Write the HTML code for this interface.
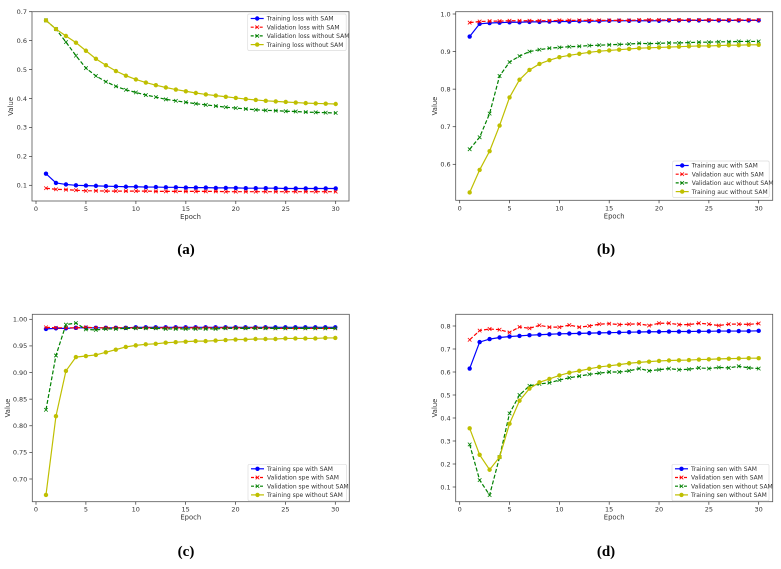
<!DOCTYPE html>
<html><head><meta charset="utf-8"><style>
html,body{margin:0;padding:0;background:#fff;}
svg{display:block;font-family:"DejaVu Sans","Liberation Sans",sans-serif;}
.cap{font-family:"Liberation Serif",serif;font-size:15px;font-weight:bold;}
</style></head><body>
<svg id="fig" width="781" height="569" viewBox="0 0 781 569" xmlns="http://www.w3.org/2000/svg">
<text class="cap" x="186" y="254" text-anchor="middle">(a)</text>
<text class="cap" x="606" y="254" text-anchor="middle">(b)</text>
<text class="cap" x="186" y="556" text-anchor="middle">(c)</text>
<text class="cap" x="606" y="556" text-anchor="middle">(d)</text>
</svg>
<script>
const epochs = Array.from({length:30},(_,i)=>i+1);
const xTicks = [0,5,10,15,20,25,30];

const lossTrainSam = [0.14,0.108,0.103,0.100,0.099,0.098,0.097,0.096,0.095,0.095,0.094,0.094,0.093,0.093,0.092,0.092,0.092,0.091,0.091,0.091,0.090,0.090,0.090,0.090,0.089,0.089,0.089,0.089,0.089,0.089];
const lossValSam = [0.090,0.086,0.085,0.083,0.081,0.081,0.080,0.080,0.080,0.080,0.080,0.079,0.079,0.079,0.079,0.079,0.079,0.079,0.078,0.078,0.078,0.078,0.078,0.078,0.078,0.078,0.078,0.078,0.078,0.078];
const lossValNoSam = [0.67,0.64,0.595,0.548,0.505,0.478,0.458,0.442,0.43,0.421,0.412,0.405,0.397,0.392,0.387,0.382,0.378,0.374,0.37,0.367,0.364,0.361,0.359,0.358,0.356,0.355,0.353,0.352,0.351,0.35];
const lossTrainNoSam = [0.67,0.64,0.616,0.593,0.565,0.537,0.515,0.495,0.479,0.466,0.455,0.446,0.438,0.431,0.425,0.419,0.414,0.41,0.406,0.402,0.398,0.395,0.392,0.39,0.388,0.386,0.384,0.383,0.382,0.381];
const lossTicks = ["0.1","0.2","0.3","0.4","0.5","0.6","0.7"];

const aucTrainSam = [0.94,0.974,0.976,0.977,0.978,0.978,0.979,0.979,0.98,0.98,0.98,0.981,0.981,0.981,0.982,0.982,0.982,0.982,0.982,0.982,0.983,0.983,0.983,0.983,0.983,0.983,0.983,0.983,0.983,0.983];
const aucValSam = [0.977,0.98,0.981,0.981,0.982,0.982,0.982,0.982,0.982,0.983,0.983,0.983,0.983,0.983,0.983,0.983,0.983,0.984,0.984,0.984,0.984,0.984,0.984,0.984,0.984,0.984,0.984,0.984,0.984,0.984];
const aucValNoSam = [0.64,0.672,0.735,0.835,0.872,0.888,0.9,0.905,0.909,0.911,0.913,0.914,0.916,0.917,0.918,0.919,0.92,0.922,0.921,0.922,0.923,0.923,0.924,0.925,0.925,0.926,0.926,0.927,0.927,0.927];
const aucTrainNoSam = [0.525,0.585,0.635,0.703,0.778,0.825,0.851,0.867,0.877,0.885,0.89,0.894,0.898,0.901,0.903,0.905,0.907,0.909,0.91,0.911,0.912,0.913,0.914,0.915,0.915,0.916,0.917,0.917,0.918,0.918];
const aucTicks = ["0.6","0.7","0.8","0.9","1.0"];

const speTrainSam = [0.982,0.983,0.983,0.984,0.984,0.984,0.984,0.984,0.984,0.985,0.985,0.985,0.985,0.985,0.985,0.985,0.985,0.985,0.985,0.985,0.985,0.985,0.985,0.985,0.985,0.985,0.985,0.985,0.985,0.985];
const speValSam = [0.985,0.984,0.984,0.984,0.985,0.984,0.984,0.984,0.984,0.984,0.984,0.984,0.984,0.984,0.984,0.984,0.984,0.984,0.984,0.984,0.984,0.984,0.984,0.983,0.983,0.983,0.983,0.983,0.983,0.983];
const speValNoSam = [0.83,0.932,0.99,0.993,0.981,0.98,0.982,0.982,0.983,0.983,0.983,0.983,0.982,0.982,0.982,0.982,0.982,0.982,0.983,0.983,0.983,0.983,0.983,0.983,0.983,0.983,0.983,0.983,0.983,0.983];
const speTrainNoSam = [0.67,0.818,0.903,0.929,0.931,0.933,0.938,0.943,0.948,0.951,0.953,0.954,0.956,0.957,0.958,0.959,0.959,0.96,0.961,0.962,0.962,0.963,0.963,0.963,0.964,0.964,0.964,0.964,0.965,0.965];
const speTicks = ["0.70","0.75","0.80","0.85","0.90","0.95","1.00"];

const senTrainSam = [0.615,0.73,0.743,0.75,0.754,0.757,0.76,0.762,0.764,0.766,0.767,0.768,0.769,0.77,0.771,0.772,0.773,0.774,0.775,0.775,0.776,0.776,0.776,0.777,0.777,0.778,0.778,0.778,0.778,0.779];
const senValSam = [0.74,0.78,0.787,0.784,0.772,0.796,0.79,0.803,0.795,0.795,0.804,0.795,0.8,0.808,0.81,0.806,0.808,0.809,0.802,0.812,0.812,0.806,0.806,0.812,0.808,0.802,0.808,0.808,0.807,0.811];
const senValNoSam = [0.285,0.13,0.065,0.23,0.42,0.5,0.54,0.548,0.553,0.565,0.575,0.582,0.59,0.595,0.6,0.6,0.605,0.615,0.605,0.61,0.615,0.61,0.612,0.618,0.615,0.62,0.618,0.625,0.618,0.615];
const senTrainNoSam = [0.355,0.24,0.175,0.23,0.375,0.475,0.528,0.555,0.57,0.585,0.597,0.605,0.614,0.622,0.627,0.632,0.638,0.642,0.645,0.648,0.65,0.651,0.652,0.654,0.655,0.657,0.658,0.659,0.66,0.66];
const senTicks = ["0.1","0.2","0.3","0.4","0.5","0.6","0.7","0.8"];

const NS="http://www.w3.org/2000/svg";
const svg=document.getElementById('fig');
function mk(tag,attrs,parent){const e=document.createElementNS(NS,tag);for(const k in attrs)e.setAttribute(k,attrs[k]);(parent||svg).appendChild(e);return e;}

const styles=[
 {color:'#0000ff',dash:null,marker:'o'},
 {color:'#ff0000',dash:'4,2',marker:'x'},
 {color:'#008000',dash:'4,2',marker:'x'},
 {color:'#bfbf00',dash:null,marker:'o'}
];

function marker(g,m,x,y,c){
  if(m==='o'){mk('circle',{cx:x,cy:y,r:2.2,fill:c},g);}
  else{const d=1.8;mk('path',{d:`M${x-d},${y-d}L${x+d},${y+d}M${x-d},${y+d}L${x+d},${y-d}`,stroke:c,'stroke-width':0.8,fill:'none'},g);}
}

function panel(cfg){
  const g=mk('g',{});
  
  
  const xs=v=>cfg.x0+(cfg.x30-cfg.x0)*v/30;
  const ys=v=>cfg.p1+(cfg.p2-cfg.p1)*(v-cfg.v1)/(cfg.v2-cfg.v1);
  cfg.series.forEach((s,i)=>{
    const st=styles[i];
    const sg=mk('g',{},g);
    
    
    const pts=s.map((v,j)=>xs(epochs[j]).toFixed(2)+','+ys(v).toFixed(2)).join(' ');
    const pl=mk('polyline',{points:pts,fill:'none',stroke:st.color,'stroke-width':1.2},sg);
    if(st.dash)pl.setAttribute('stroke-dasharray',st.dash);
    s.forEach((v,j)=>marker(sg,st.marker,xs(epochs[j]),ys(v),st.color));
  });
  const fr=mk('rect',{x:cfg.L,y:cfg.T,width:cfg.R-cfg.L,height:cfg.B-cfg.T,fill:'none',stroke:'#555','stroke-width':0.8},g);
  
  
  xTicks.forEach(t=>{
    const x=xs(t);
    mk('line',{x1:x,x2:x,y1:cfg.B,y2:cfg.B+3,stroke:'#333','stroke-width':0.7},g);
    const tx=mk('text',{x:x,y:cfg.B+10,'font-size':6.5,'text-anchor':'middle',fill:'#333'},g);
    
    
    tx.textContent=t;
  });
  cfg.ticks.forEach(t=>{
    const y=ys(parseFloat(t));
    mk('line',{x1:cfg.L-3,x2:cfg.L,y1:y,y2:y,stroke:'#333','stroke-width':0.7},g);
    const tx=mk('text',{x:cfg.L-5,y:y+2.3,'font-size':6.5,'text-anchor':'end',fill:'#333'},g);
    
    
    tx.textContent=t;
  });
  const xl=mk('text',{x:(cfg.L+cfg.R)/2,y:cfg.B+18,'font-size':6.8,'text-anchor':'middle',fill:'#333'},g);
  
  
  xl.textContent='Epoch';
  const yx=cfg.yl, yy=(cfg.T+cfg.B)/2;
  const yl=mk('text',{x:yx,y:yy,'font-size':6.8,'text-anchor':'middle',fill:'#333',transform:`rotate(-90 ${yx} ${yy})`},g);
  
  
  yl.textContent='Value';
  const lg=mk('g',{},g);
  
  
  mk('rect',{x:cfg.lx,y:cfg.ly,width:cfg.lw,height:36.5,fill:'#fff','fill-opacity':0.85,stroke:'#ddd','stroke-width':0.7,rx:1.5},lg);
  cfg.labels.forEach((lab,i)=>{
    const st=styles[i];
    const cy=cfg.ly+4.5+i*8.7;
    const e=mk('g',{},lg);
    
    
    const ln=mk('line',{x1:cfg.lx+3,x2:cfg.lx+16,y1:cy,y2:cy,stroke:st.color,'stroke-width':1.2},e);
    if(st.dash)ln.setAttribute('stroke-dasharray','3,1.5');
    marker(e,st.marker,cfg.lx+9.5,cy,st.color);
    const t=mk('text',{x:cfg.lx+19,y:cy+2.2,'font-size':6,fill:'#333'},e);
    t.textContent=lab;
  });
}

panel({name:'loss-chart',L:32,R:349,T:11.7,B:201,x0:36,x30:335.7,v1:0.1,p1:185.3,v2:0.7,p2:11.7,yl:13,
  series:[lossTrainSam,lossValSam,lossValNoSam,lossTrainNoSam],ticks:lossTicks,
  labels:['Training loss with SAM','Validation loss with SAM','Validation loss without SAM','Training loss without SAM'],lx:247.7,ly:14,lw:98.5});
panel({name:'auc-chart',L:455.7,R:772.7,T:11.7,B:200.3,x0:459.7,x30:758.7,v1:0.6,p1:164.3,v2:1.0,p2:14,yl:437,
  series:[aucTrainSam,aucValSam,aucValNoSam,aucTrainNoSam],ticks:aucTicks,
  labels:['Training auc with SAM','Validation auc with SAM','Validation auc without SAM','Training auc without SAM'],lx:672.7,ly:161,lw:96.5});
panel({name:'spe-chart',L:32.3,R:349.3,T:314.3,B:501.7,x0:36,x30:335.3,v1:0.7,p1:479,v2:1.0,p2:319.3,yl:10,
  series:[speTrainSam,speValSam,speValNoSam,speTrainNoSam],ticks:speTicks,
  labels:['Training spe with SAM','Validation spe with SAM','Validation spe without SAM','Training spe without SAM'],lx:248,ly:464.3,lw:98.5});
panel({name:'sen-chart',L:455.7,R:772.7,T:314.3,B:501.7,x0:459.7,x30:758.7,v1:0.1,p1:487,v2:0.8,p2:326,yl:437,
  series:[senTrainSam,senValSam,senValNoSam,senTrainNoSam],ticks:senTicks,
  labels:['Training sen with SAM','Validation sen with SAM','Validation sen without SAM','Training sen without SAM'],lx:672,ly:464.3,lw:97});
</script>
</body></html>
